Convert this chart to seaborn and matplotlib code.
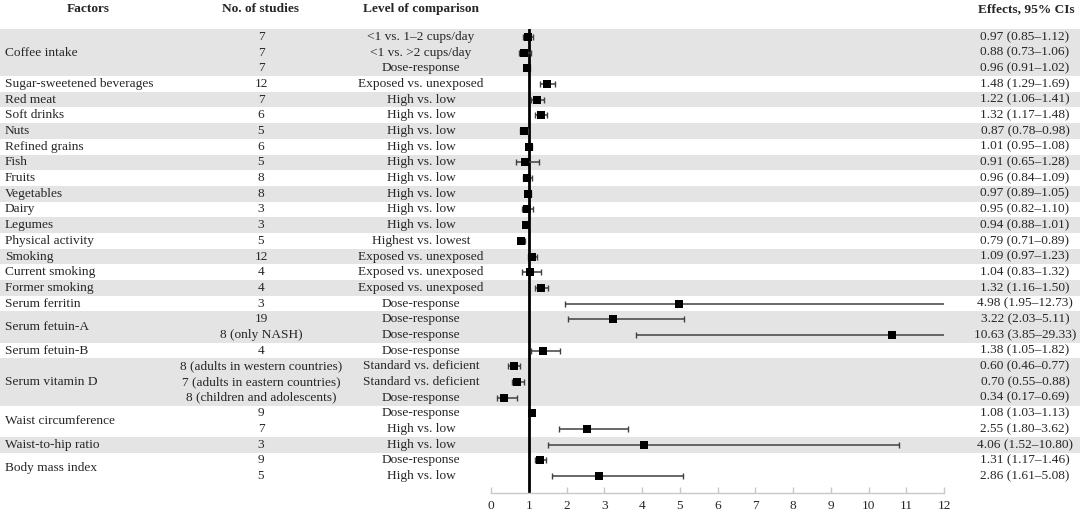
import numpy as np
import pandas as pd
import matplotlib
matplotlib.use("Agg")
import matplotlib.pyplot as plt
from matplotlib.patches import Rectangle
from matplotlib.transforms import blended_transform_factory
import seaborn as sns

# factor groups (name shown once, spanning its rows)
factor_names = ["Coffee intake", "Sugar-sweetened beverages", "Red meat", "Soft drinks", "Nuts",
                "Refined grains", "Fish", "Fruits", "Vegetables", "Dairy", "Legumes",
                "Physical activity", "Smoking", "Current smoking", "Former smoking",
                "Serum ferritin", "Serum fetuin-A", "Serum fetuin-B", "Serum vitamin D",
                "Waist circumference", "Waist-to-hip ratio", "Body mass index"]
factor_sizes = [3, 1, 1, 1, 1, 1, 1, 1, 1, 1, 1, 1, 1, 1, 1, 1, 2, 1, 3, 2, 1, 2]

studies = ["7", "7", "7", "12", "7", "6", "5", "6", "5", "8", "8", "3", "3", "5", "12", "4", "4",
           "3", "19", "8 (only NASH)", "4",
           "8 (adults in western countries)", "7 (adults in eastern countries)",
           "8 (children and adolescents)", "9", "7", "3", "9", "5"]
levels = ["<1 vs. 1\u20132 cups/day", "<1 vs. >2 cups/day", "Dose-response",
          "Exposed vs. unexposed", "High vs. low", "High vs. low", "High vs. low", "High vs. low",
          "High vs. low", "High vs. low", "High vs. low", "High vs. low", "High vs. low",
          "Highest vs. lowest", "Exposed vs. unexposed", "Exposed vs. unexposed",
          "Exposed vs. unexposed", "Dose-response", "Dose-response", "Dose-response",
          "Dose-response", "Standard vs. deficient", "Standard vs. deficient", "Dose-response",
          "Dose-response", "High vs. low", "High vs. low", "Dose-response", "High vs. low"]
effect = [0.97, 0.88, 0.96, 1.48, 1.22, 1.32, 0.87, 1.01, 0.91, 0.96, 0.97, 0.95, 0.94, 0.79,
          1.09, 1.04, 1.32, 4.98, 3.22, 10.63, 1.38, 0.60, 0.70, 0.34, 1.08, 2.55, 4.06, 1.31, 2.86]
ci_low = [0.85, 0.73, 0.91, 1.29, 1.06, 1.17, 0.78, 0.95, 0.65, 0.84, 0.89, 0.82, 0.88, 0.71,
          0.97, 0.83, 1.16, 1.95, 2.03, 3.85, 1.05, 0.46, 0.55, 0.17, 1.03, 1.80, 1.52, 1.17, 1.61]
ci_high = [1.12, 1.06, 1.02, 1.69, 1.41, 1.48, 0.98, 1.08, 1.28, 1.09, 1.05, 1.10, 1.01, 0.89,
           1.23, 1.32, 1.50, 12.73, 5.11, 29.33, 1.82, 0.77, 0.88, 0.69, 1.13, 3.62, 10.80, 1.46, 5.08]
x_ticks = list(range(0, 13))

sns.set_theme(style="white")
plt.rcParams['font.family'] = ['Liberation Serif', 'DejaVu Serif']

W, H = 1084, 516
fig = plt.figure(figsize=(W / 100, H / 100), dpi=100)
top_px, axis_px, row_px = 29, 493, 15.69
ax = fig.add_axes([491 / W, 1 - axis_px / H, (944 - 491) / W, (axis_px - top_px) / H])
ax.set_facecolor("none")

df = pd.DataFrame({"effect": effect, "low": ci_low, "high": ci_high})
df["row"] = np.arange(len(df)) + 0.5

ax.set_xlim(0, 12)
ax.set_ylim((axis_px - top_px) / row_px, 0)

trans = blended_transform_factory(fig.transFigure, ax.transData)
fs = 9.6

# shaded bands + factor names
start = 0
for k, (name, size) in enumerate(zip(factor_names, factor_sizes)):
    if k % 2 == 0:
        ax.add_patch(Rectangle((0, start), 1080 / W, size, transform=trans, facecolor="#e4e4e4",
                               edgecolor="none", clip_on=False, zorder=0))
    ax.text(5 / W, start + size / 2, name, transform=trans, ha="left", va="center",
            fontsize=fs, clip_on=False)
    start += size

for i, r in df.iterrows():
    ax.text(261 / W, r["row"], studies[i], transform=trans, ha="center", va="center", fontsize=fs)
    ax.text(421 / W, r["row"], levels[i], transform=trans, ha="center", va="center", fontsize=fs)
    ax.text(1025 / W, r["row"], f"{effect[i]:.2f} ({ci_low[i]:.2f}\u2013{ci_high[i]:.2f})",
            transform=trans, ha="center", va="center", fontsize=fs)

# headers
for xp, label in [(88, "Factors"), (261, "No. of studies"), (421, "Level of comparison"),
                  (1026, "Effects, 95% CIs")]:
    fig.text(xp / W, 1 - 9 / H, label, ha="center", va="center", fontsize=fs, fontweight="bold")

ax.axvline(1, color="black", lw=2.0, zorder=2)
ax.errorbar(df["effect"], df["row"], xerr=[df["effect"] - df["low"], df["high"] - df["effect"]],
            fmt="none", ecolor="#404040", elinewidth=1.1, capsize=2.5, capthick=1.0, zorder=3)
sns.scatterplot(data=df, x="effect", y="row", marker="s", s=36, color="black",
                edgecolor="black", linewidth=0, ax=ax, zorder=4, legend=False)

ax.set_xticks(x_ticks)
ax.set_yticks([])
ax.set_xlabel("")
ax.set_ylabel("")
for side in ["top", "right", "left"]:
    ax.spines[side].set_visible(False)
ax.spines["bottom"].set_color("#c8c8c8")
ax.spines["bottom"].set_linewidth(1.0)
ax.tick_params(axis="x", direction="in", length=4, width=1, color="#c8c8c8",
               labelsize=fs, pad=5, bottom=True)

fig.savefig("out.png", dpi=100)
